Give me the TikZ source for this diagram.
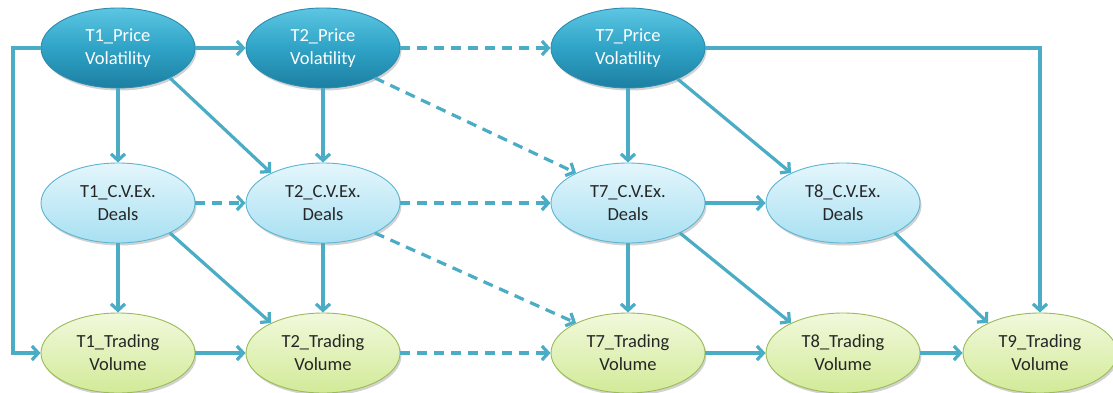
\documentclass[tikz,border=0pt]{standalone}
\usepackage{fontspec}
\setmainfont{Carlito}
\usetikzlibrary{arrows.meta,shapes.geometric,shadows}
\definecolor{acc}{HTML}{4BACC6}
\definecolor{pvtop}{HTML}{5CC6E2}
\definecolor{pvmid}{HTML}{2FA3C6}
\definecolor{pvbot}{HTML}{1C7FA2}
\definecolor{pvborder}{HTML}{2A8DB0}
\definecolor{cvtop}{HTML}{E4F6FC}
\definecolor{cvbot}{HTML}{A8E0F2}
\definecolor{cvborder}{HTML}{5DB5D2}
\definecolor{tvtop}{HTML}{F1F9DC}
\definecolor{tvbot}{HTML}{D2EA98}
\definecolor{tvborder}{HTML}{9BBB59}
\definecolor{dtext}{HTML}{262626}
\begin{document}
\begin{tikzpicture}[x=1pt,y=1pt,
  ell/.style={ellipse, minimum width=154pt, minimum height=80pt, inner sep=0pt,
    align=center, font=\fontsize{18.5}{23}\selectfont, line width=0.9pt,
    drop shadow={shadow xshift=1.5pt, shadow yshift=-2.5pt, opacity=0.25, fill=black!70}},
  pv/.style={ell, draw=pvborder, top color=pvtop, bottom color=pvbot, middle color=pvmid, text=white},
  cv/.style={ell, draw=cvborder, top color=cvtop, bottom color=cvbot, text=dtext},
  tv/.style={ell, draw=tvborder, top color=tvtop, bottom color=tvbot, text=dtext},
  arr/.style={draw=acc, line width=3.2pt, -{Straight Barb[length=6.5pt,width=14pt]}},
  dsh/.style={arr, dash pattern=on 10pt off 7pt}]
\fill[white] (0,0) rectangle (1113,392);
\useasboundingbox (0,0) rectangle (1113,392);

% top row
\node[pv] (P1) at (118,344) {T1\_Price\\Volatility};
\node[pv] (P2) at (323,344) {T2\_Price\\Volatility};
\node[pv] (P7) at (628,344) {T7\_Price\\Volatility};
% middle row
\node[cv] (C1) at (118,189) {T1\_C.V.Ex.\\Deals};
\node[cv] (C2) at (323,189) {T2\_C.V.Ex.\\Deals};
\node[cv] (C7) at (628,189) {T7\_C.V.Ex.\\Deals};
\node[cv] (C8) at (843,189) {T8\_C.V.Ex.\\Deals};
% bottom row
\node[tv] (V1) at (118,39) {T1\_Trading\\Volume};
\node[tv] (V2) at (323,39) {T2\_Trading\\Volume};
\node[tv] (V7) at (628,39) {T7\_Trading\\Volume};
\node[tv] (V8) at (843,39) {T8\_Trading\\Volume};
\node[tv] (V9) at (1040,39) {T9\_Trading\\Volume};

\coordinate (L) at (13,344);

% horizontal
\draw[arr] (P1.east) -- (P2.west);
\draw[dsh] (P2.east) -- (P7.west);
\draw[arr] (P7.east) -| (V9.north);
\draw[dsh] (C1.east) -- (C2.west);
\draw[dsh] (C2.east) -- (C7.west);
\draw[arr] (C7.east) -- (C8.west);
\draw[arr] (V1.east) -- (V2.west);
\draw[dsh] (V2.east) -- (V7.west);
\draw[arr] (V7.east) -- (V8.west);
\draw[arr] (V8.east) -- (V9.west);
% left frame
\draw[arr] (P1.west) -- (L) |- (V1.west);
% vertical
\draw[arr] (P1.south) -- (C1.north);
\draw[arr] (P2.south) -- (C2.north);
\draw[arr] (P7.south) -- (C7.north);
\draw[arr] (C1.south) -- (V1.north);
\draw[arr] (C2.south) -- (V2.north);
\draw[arr] (C7.south) -- (V7.north);
% diagonals
\draw[arr] (P1.-30) -- (C2.150);
\draw[dsh] (P2.-30) -- (C7.150);
\draw[arr] (P7.-32) -- (C8.150);
\draw[arr] (C1.-30) -- (V2.150);
\draw[dsh] (C2.-30) -- (V7.150);
\draw[arr] (C7.-30) -- (V8.150);
\draw[arr] (C8.-30) -- (V9.150);
\end{tikzpicture}
\end{document}
